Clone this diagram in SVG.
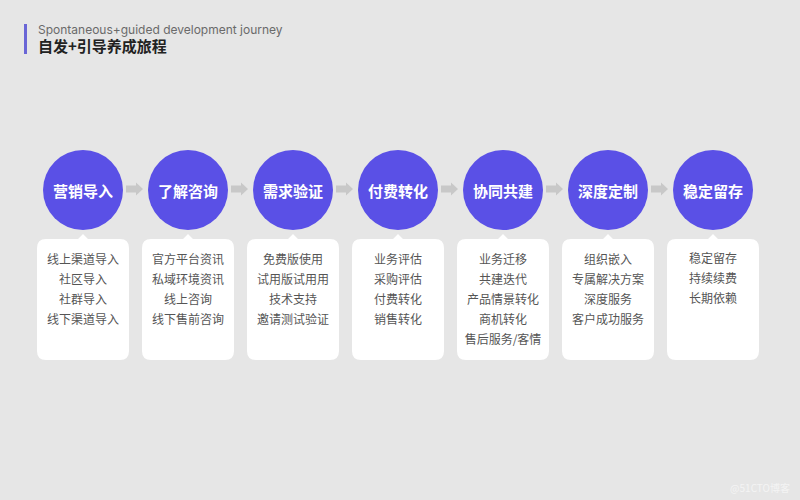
<svg xmlns="http://www.w3.org/2000/svg" width="800" height="500" viewBox="0 0 800 500">
<defs>
<style>
.bg{fill:#e6e6e6}
.circ{fill:#5a50e6}
.ct{font-family:"Noto Sans CJK SC","Noto Sans",sans-serif;font-size:15px;font-weight:bold;fill:#ffffff;text-anchor:middle;dominant-baseline:central}
.card{fill:#ffffff}
.lt{font-family:"Noto Sans CJK SC","Noto Sans",sans-serif;font-size:12px;fill:#555555;text-anchor:middle;dominant-baseline:central}
.arr{fill:#c8c8c8}
</style>
<path id="cardshape" d="M-37,-121 H-5 L0,-126 L5,-121 H37 Q46,-121 46,-112 V-9 Q46,0 37,0 H-37 Q-46,0 -46,-9 V-112 Q-46,-121 -37,-121 Z"/>
<path id="arrow" d="M0,-3.5 H10 V-6.5 L17,0 L10,6.5 V3.5 H0 Z"/>
</defs>
<rect class="bg" x="0" y="0" width="800" height="500"/>
<g id="header">
<rect x="24" y="24" width="3" height="30" fill="#6a66d6"/>
<text x="38" y="34" font-family="Inter,'Noto Sans',sans-serif" font-size="12" fill="#6a6a6a">Spontaneous+guided development journey</text>
<text x="38" y="52" font-family="'Noto Sans CJK SC',sans-serif" font-size="15" font-weight="bold" fill="#222222">自发+引导养成旅程</text>
</g>
<g id="connectors">
<use href="#arrow" class="arr" x="126" y="189"/>
<use href="#arrow" class="arr" x="231" y="189"/>
<use href="#arrow" class="arr" x="336" y="189"/>
<use href="#arrow" class="arr" x="441" y="189"/>
<use href="#arrow" class="arr" x="546" y="189"/>
<use href="#arrow" class="arr" x="651" y="189"/>
</g>
<g id="node1">
<circle class="circ" cx="83" cy="190" r="40"/>
<text class="ct" x="83" y="190">营销导入</text>
<use href="#cardshape" class="card" x="83" y="360"/>
<text class="lt" x="83" y="258">线上渠道导入</text>
<text class="lt" x="83" y="278">社区导入</text>
<text class="lt" x="83" y="298">社群导入</text>
<text class="lt" x="83" y="318">线下渠道导入</text>
</g>
<g id="node2">
<circle class="circ" cx="188" cy="190" r="40"/>
<text class="ct" x="188" y="190">了解咨询</text>
<use href="#cardshape" class="card" x="188" y="360"/>
<text class="lt" x="188" y="258">官方平台资讯</text>
<text class="lt" x="188" y="278">私域环境资讯</text>
<text class="lt" x="188" y="298">线上咨询</text>
<text class="lt" x="188" y="318">线下售前咨询</text>
</g>
<g id="node3">
<circle class="circ" cx="293" cy="190" r="40"/>
<text class="ct" x="293" y="190">需求验证</text>
<use href="#cardshape" class="card" x="293" y="360"/>
<text class="lt" x="293" y="258">免费版使用</text>
<text class="lt" x="293" y="278">试用版试用用</text>
<text class="lt" x="293" y="298">技术支持</text>
<text class="lt" x="293" y="318">邀请测试验证</text>
</g>
<g id="node4">
<circle class="circ" cx="398" cy="190" r="40"/>
<text class="ct" x="398" y="190">付费转化</text>
<use href="#cardshape" class="card" x="398" y="360"/>
<text class="lt" x="398" y="258">业务评估</text>
<text class="lt" x="398" y="278">采购评估</text>
<text class="lt" x="398" y="298">付费转化</text>
<text class="lt" x="398" y="318">销售转化</text>
</g>
<g id="node5">
<circle class="circ" cx="503" cy="190" r="40"/>
<text class="ct" x="503" y="190">协同共建</text>
<use href="#cardshape" class="card" x="503" y="360"/>
<text class="lt" x="503" y="258">业务迁移</text>
<text class="lt" x="503" y="278">共建迭代</text>
<text class="lt" x="503" y="298">产品情景转化</text>
<text class="lt" x="503" y="318">商机转化</text>
<text class="lt" x="503" y="338">售后服务/客情</text>
</g>
<g id="node6">
<circle class="circ" cx="608" cy="190" r="40"/>
<text class="ct" x="608" y="190">深度定制</text>
<use href="#cardshape" class="card" x="608" y="360"/>
<text class="lt" x="608" y="258">组织嵌入</text>
<text class="lt" x="608" y="278">专属解决方案</text>
<text class="lt" x="608" y="298">深度服务</text>
<text class="lt" x="608" y="318">客户成功服务</text>
</g>
<g id="node7">
<circle class="circ" cx="713" cy="190" r="40"/>
<text class="ct" x="713" y="190">稳定留存</text>
<use href="#cardshape" class="card" x="713" y="360"/>
<text class="lt" x="713" y="257">稳定留存</text>
<text class="lt" x="713" y="277">持续续费</text>
<text class="lt" x="713" y="297">长期依赖</text>
</g>
<text x="790" y="492" text-anchor="end" font-family="'Noto Sans CJK SC',sans-serif" font-size="10" fill="#f4f4f4">@51CTO博客</text>
</svg>
